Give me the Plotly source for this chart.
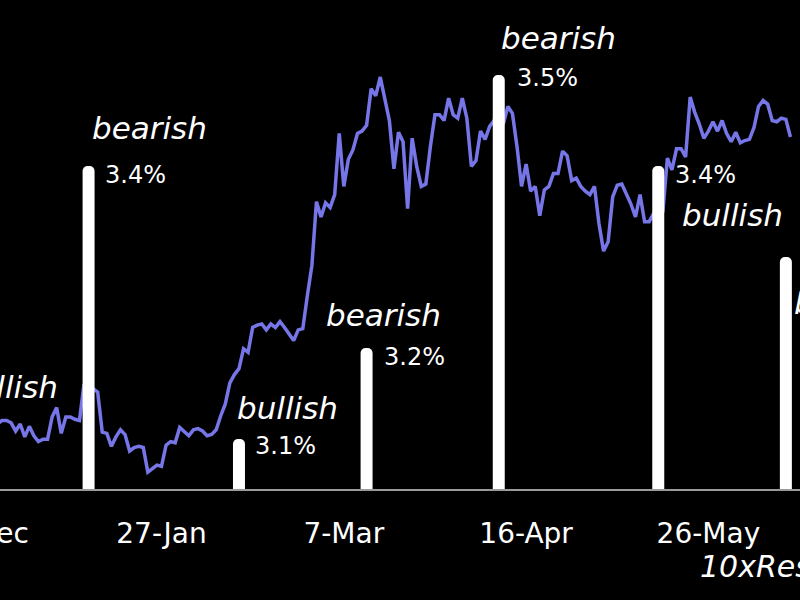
import pandas as pd
import plotly.graph_objects as go

# ---------------- data ----------------
# BTC price (thousand USD), one point per day, as drawn in the chart
price_start = "2023-12-21"
btc_price_k = [
    42.3, 43.6, 43.9, 43.9, 43.7, 43.0, 43.6, 42.5, 43.4, 42.6, 42.1, 42.3, 42.3,
    44.2, 45.0, 42.8, 44.2, 44.2, 44.0, 43.9, 47.0, 46.1, 46.6,
    46.3, 42.9, 42.8, 41.7, 42.5, 43.1, 42.7, 41.3, 41.6, 41.7,
    41.6, 39.5, 39.8, 40.1, 40.0, 41.8, 42.1, 42.0, 43.3, 42.9, 42.6,
    43.1, 43.2, 43.0, 42.6, 42.7, 43.1, 44.3, 45.3, 47.1, 47.8,
    48.3, 50.0, 49.7, 51.8, 52.0, 52.1, 51.6, 52.1, 51.8, 52.3,
    51.8, 51.3, 50.7, 51.6, 51.7, 54.5, 57.1, 62.5, 61.2,
    62.4, 62.0, 63.1, 68.3, 63.8, 66.1, 66.9, 68.3, 68.5, 69.0,
    72.1, 71.5, 73.1, 71.4, 69.4, 65.3, 68.4, 67.6, 61.9, 67.9,
    65.5, 63.8, 64.0, 67.2, 69.9, 69.9, 69.4, 71.3, 69.9, 69.6, 71.3,
    69.6, 65.5, 66.0, 68.5, 67.8, 68.9, 69.4, 71.6, 69.1, 70.6,
    70.0, 67.2, 63.8, 65.7, 63.4, 63.8, 61.3, 63.5, 63.8, 64.9,
    64.9, 66.8, 66.4, 64.3, 64.5, 63.8, 63.4, 63.1, 63.8, 60.6,
    58.3, 59.1, 62.9, 63.9, 64.0, 63.2, 62.3, 61.2, 63.1, 60.8,
    60.8, 61.5, 62.9, 61.6, 66.2, 65.2, 67.0, 67.0, 66.3, 71.4,
    70.1, 69.1, 67.9, 68.5, 69.3, 68.5, 69.4, 68.3, 67.6, 68.4, 67.5,
    67.7, 67.8, 68.8, 70.6, 71.1, 70.8, 69.4, 69.3, 69.6, 69.5, 68.0,
]
price_dates = pd.date_range(price_start, periods=len(btc_price_k), freq="D")

# CPI (YoY %) release bars
cpi_dates = ["2023-12-12", "2024-01-11", "2024-02-13", "2024-03-12",
             "2024-04-10", "2024-05-15", "2024-06-12"]
cpi_yoy = [3.1, 3.4, 3.1, 3.2, 3.5, 3.4, 3.3]
cpi_signal = ["bullish", "bearish", "bullish", "bearish",
              "bearish", "bullish", "bullish"]

# x-axis tick labels
tick_dates = ["2023-12-18", "2024-01-27", "2024-03-07", "2024-04-16", "2024-05-26"]
tick_labels = ["18-Dec", "27-Jan", "7-Mar", "16-Apr", "26-May"]

source_label = "10xResearch"

# ---------------- layout / styling ----------------
W, H = 800, 600
PLOT_BOTTOM = 489            # px from top where the axis line sits
PX_PER_DAY = 4.5575
REF_TICK_PX = 161.5          # pixel x of the 27-Jan tick
x0 = pd.Timestamp("2024-01-27") - pd.Timedelta(days=REF_TICK_PX / PX_PER_DAY)
x1 = x0 + pd.Timedelta(days=W / PX_PER_DAY)


def to_paper(d):
    return (pd.Timestamp(d) - x0) / (x1 - x0)


FONT = "DejaVu Sans"
WHITE = "#ffffff"
PURPLE = "#7676e8"

# label placement (px): word / percent offsets relative to the bar top
word_dx = [3, 1, -4, -43, 0, 22, 6]
word_dy = [-52, -38, -31, -33, -37, 49, 46]
pct_dx = [-15, 14, 14, 15, 16, 15, 15]
pct_dy = [8, 9, 7, 9, 3, 9, 9]

fig = go.Figure()

fig.add_trace(go.Scatter(
    x=price_dates, y=btc_price_k, mode="lines",
    line=dict(color=PURPLE, width=3.5), yaxis="y", hoverinfo="skip",
))

bar_width_ms = 2.63 * 86400000
fig.add_trace(go.Bar(
    x=pd.to_datetime(cpi_dates), y=cpi_yoy, yaxis="y2",
    width=[bar_width_ms] * len(cpi_dates),
    marker=dict(color=WHITE, line=dict(width=0), cornerradius=6),
    hoverinfo="skip",
))

annotations = []
for i, (d, v, s) in enumerate(zip(cpi_dates, cpi_yoy, cpi_signal)):
    px = to_paper(d)
    annotations.append(dict(
        xref="paper", x=px, xshift=word_dx[i], xanchor="left",
        yref="y2", y=v, yshift=-word_dy[i], yanchor="middle",
        text=f"<i>{s}</i>", showarrow=False,
        font=dict(family=FONT, size=31, color=WHITE),
    ))
    annotations.append(dict(
        xref="paper", x=px, xshift=pct_dx[i],
        xanchor="left" if pct_dx[i] > 0 else "right",
        yref="y2", y=v, yshift=-pct_dy[i], yanchor="middle",
        text=f"{v:.1f}%", showarrow=False,
        font=dict(family=FONT, size=24, color=WHITE),
    ))

# tick labels that fall outside the visible range
for d, t in zip(tick_dates, tick_labels):
    p = to_paper(d)
    if p < 0 or p > 1:
        annotations.append(dict(
            xref="paper", x=p, xanchor="center",
            yref="paper", y=0, yanchor="middle", yshift=-44,
            text=t, showarrow=False,
            font=dict(family=FONT, size=28, color=WHITE),
        ))

annotations.append(dict(
    xref="paper", x=698 / W, xanchor="left",
    yref="paper", y=0, yanchor="middle", yshift=-(566 - PLOT_BOTTOM),
    text=f"<i>{source_label}</i>", showarrow=False,
    font=dict(family=FONT, size=30, color=WHITE),
))

fig.update_layout(
    width=W, height=H,
    paper_bgcolor="#000000", plot_bgcolor="#000000",
    margin=dict(l=0, r=0, t=0, b=H - PLOT_BOTTOM, pad=0),
    showlegend=False,
    hovermode=False,
    xaxis=dict(
        type="date", range=[x0, x1],
        tickvals=pd.to_datetime(tick_dates), ticktext=tick_labels,
        ticks="", ticklabelstandoff=18,
        tickfont=dict(family=FONT, size=28, color=WHITE),
        showgrid=False, zeroline=False,
        showline=True, linecolor="#9a9a9a", linewidth=2,
    ),
    yaxis=dict(range=[38.07, 79.65], visible=False, showgrid=False),
    yaxis2=dict(range=[3.045, 3.5824], overlaying="y", visible=False,
                showgrid=False),
    annotations=annotations,
)

fig.write_html(
    "out.html",
    config={"displayModeBar": False, "staticPlot": True},
    post_script="document.body.style.margin='0';document.body.style.padding='0';"
                "document.body.style.background='#000';",
)
